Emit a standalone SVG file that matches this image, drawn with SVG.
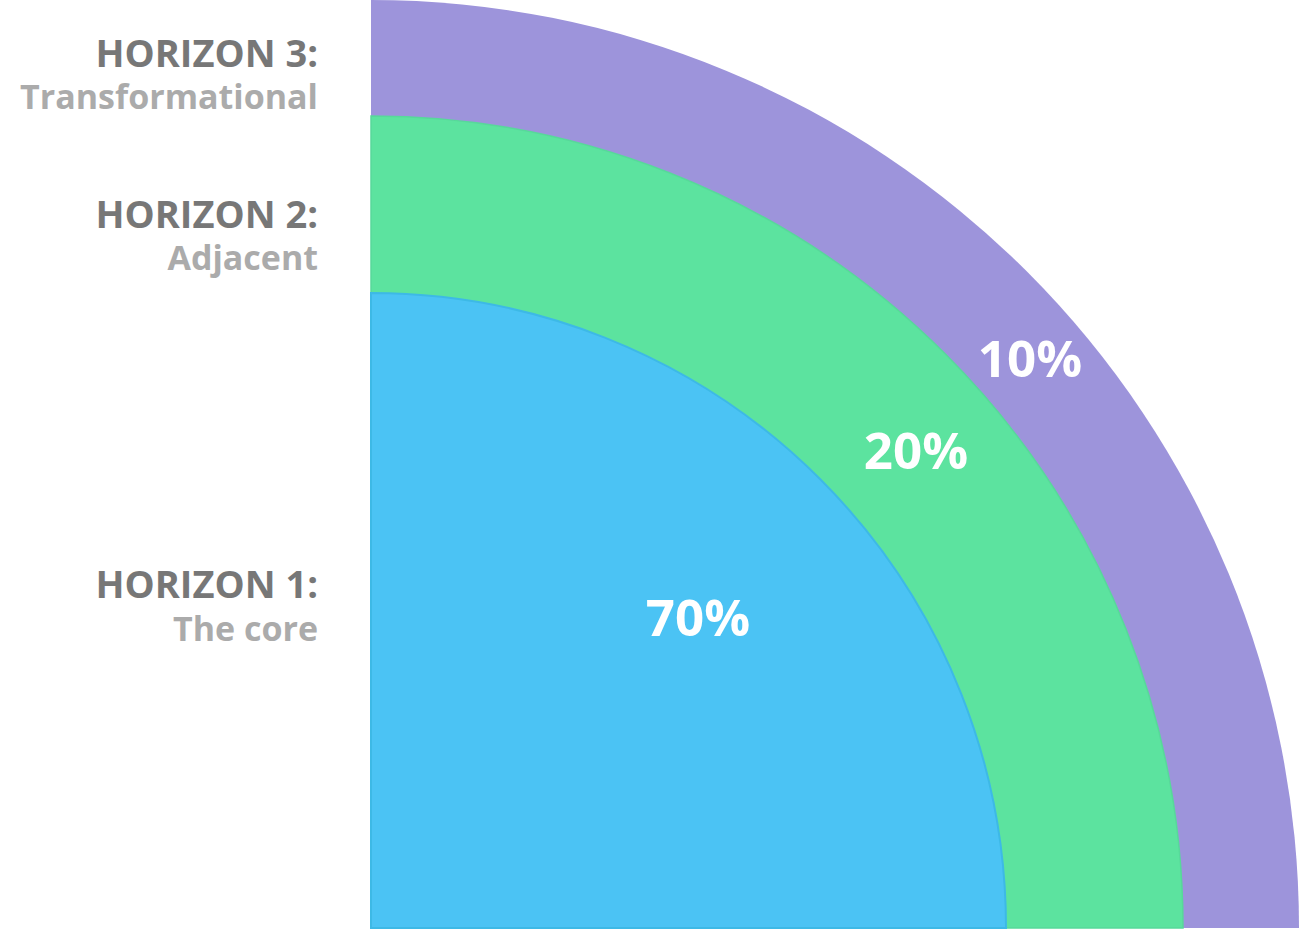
<svg xmlns="http://www.w3.org/2000/svg" width="1300" height="929" viewBox="0 0 1300 929">
<style>
.h{font-family:"Open Sans","Noto Sans",sans-serif;font-weight:700;font-size:38px;fill:#777777;text-anchor:end}
.s{font-family:"Open Sans","Noto Sans",sans-serif;font-weight:700;font-size:34px;fill:#ABABAB;text-anchor:end}
.p{font-family:"Open Sans","Noto Sans",sans-serif;font-weight:700;font-size:51px;fill:#FFFFFF;text-anchor:middle}
</style>
<rect width="1300" height="929" fill="#FFFFFF"/>
<g id="horizon3">
<path d="M371,928 L371,0 A928,928 0 0 1 1299,928 Z" fill="#9D94DB"/>
</g>
<g id="horizon2">
<path d="M371,928 L371,116 A812,812 0 0 1 1183,928 Z" fill="#5CE39F" stroke="#57D99A" stroke-width="1.5"/>
</g>
<g id="horizon1">
<path d="M371,928 L371,293 A635,635 0 0 1 1006,928 Z" fill="#4BC3F4" stroke="#3DB9E6" stroke-width="2"/>
</g>
<g id="labels">
<text class="h" x="318" y="67">HORIZON 3:</text>
<text class="s" x="318" y="109">Transformational</text>
<text class="h" x="318" y="228">HORIZON 2:</text>
<text class="s" x="318" y="270">Adjacent</text>
<text class="h" x="318" y="598">HORIZON 1:</text>
<text class="s" x="318" y="641">The core</text>
</g>
<g id="percents">
<text class="p" x="1030" y="377">10%</text>
<text class="p" x="916" y="469">20%</text>
<text class="p" x="698" y="636">70%</text>
</g>
</svg>
